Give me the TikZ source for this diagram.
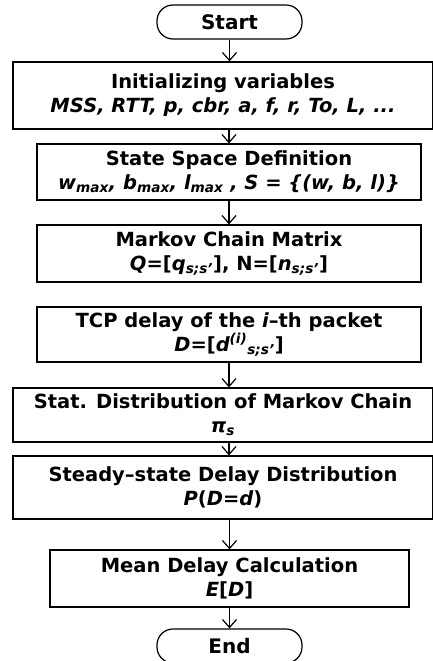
\documentclass[tikz,border=0pt]{standalone}
\usepackage{fontspec}
\setmainfont{DejaVu Sans}
\usetikzlibrary{arrows.meta}
\newcommand{\mysub}[1]{\textsubscript{#1}}
\newcommand{\mysup}[1]{\textsuperscript{#1}}
\tikzset{
  box/.style={draw, line width=1.2pt, inner sep=0pt, align=center,
    font=\bfseries\fontsize{19.5}{24}\selectfont},
  term/.style={draw, line width=1.2pt, rounded corners=16pt, inner sep=0pt,
    minimum width=145pt, minimum height=34pt, font=\bfseries\fontsize{20}{20}\selectfont},
  flow/.style={line width=1.2pt, -{Straight Barb[length=8pt,width=14pt]}}
}
\begin{document}
\begin{tikzpicture}[x=1pt,y=-1pt]
\useasboundingbox (0,0) rectangle (433,661);
\node[term] (start) at (229.5,22) {Start};
\node[box, minimum width=420pt, minimum height=67pt] (init) at (223,95.5)
  {Initializing variables\\ \itshape MSS, RTT, p, cbr, a, f, r, To, L, ...};
\node[box, minimum width=384pt, minimum height=56pt] (space) at (229,172)
  {State Space Definition\\ \itshape w\mysub{max}, b\mysub{max}, l\mysub{max} , S = \{(w, b, l)\}};
\node[box, minimum width=384pt, minimum height=57pt] (markov) at (229,253.5)
  {Markov Chain Matrix\\ {\itshape Q}=[{\itshape q\mysub{s;s'}}], N=[{\itshape n\mysub{s;s'}}]};
\node[box, minimum width=384pt, minimum height=55pt] (tcp) at (229,334.5)
  {TCP delay of the {\itshape i}--th packet\\ {\itshape D}=[{\itshape d\mysup{(i)}\mysub{s;s'}}]};
\node[box, minimum width=420pt, minimum height=54pt] (stat) at (223,415)
  {Stat. Distribution of Markov Chain\\ \itshape π\mysub{s}};
\node[box, minimum width=420pt, minimum height=63pt] (steady) at (223,487.5)
  {Steady--state Delay Distribution\\ {\itshape P}({\itshape D}={\itshape d})};
\node[box, minimum width=359pt, minimum height=57pt] (mean) at (229.5,578.5)
  {Mean Delay Calculation\\ {\itshape E}[{\itshape D}]};
\node[term] (end) at (229.5,646) {End};
\draw[flow] (start) -- (start |- init.north);
\draw[flow] (init.south -| space) -- (space);
\draw[flow] (space) -- (markov);
\draw[flow] (tcp) -- (tcp |- stat.north);
\draw[flow] (stat.south -| tcp) -- (tcp |- steady.north);
\draw[flow] (steady.south -| mean) -- (mean);
\draw[flow] (mean) -- (end);
\end{tikzpicture}
\end{document}
